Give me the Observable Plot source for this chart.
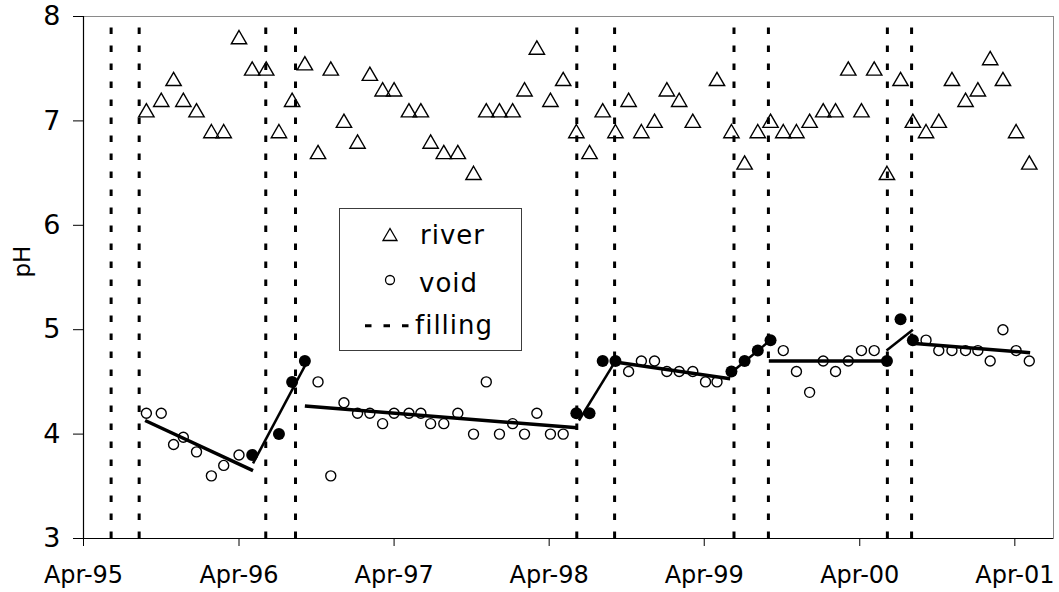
<!DOCTYPE html>
<html><head><meta charset="utf-8">
<script src="https://cdn.jsdelivr.net/npm/d3@7"></script>
<script src="https://cdn.jsdelivr.net/npm/@observablehq/plot@0.6"></script>
<style>
body{margin:0;background:#fff;}
#wrap{position:relative;width:1059px;height:592px;font-family:"DejaVu Sans",Verdana,sans-serif;}
#legend{position:absolute;left:339px;top:208px;}
</style></head><body><div id="wrap"></div>
<script>
// ---- data ----
const xDomain = ["1995-04-01", "2001-07-01"];
const tickDates = ["1995-04-01","1996-04-01","1997-04-01","1998-04-01","1999-04-01","2000-04-01","2001-04-01"];
const yTicks = [3,4,5,6,7,8];

const riverDates = ["1995-08-27","1995-10-01","1995-10-30","1995-11-22","1995-12-23","1996-01-27","1996-02-25","1996-04-01","1996-05-02","1996-06-04","1996-07-04","1996-08-04","1996-09-03","1996-10-04","1996-11-03","1996-12-04","1997-01-05","1997-02-03","1997-03-05","1997-04-01","1997-05-06","1997-06-03","1997-06-26","1997-07-27","1997-08-29","1997-10-05","1997-11-04","1997-12-05","1998-01-05","1998-02-02","1998-03-03","1998-04-04","1998-05-04","1998-06-04","1998-07-05","1998-08-05","1998-09-04","1998-10-05","1998-11-04","1998-12-05","1999-01-03","1999-02-01","1999-03-05","1999-05-01","1999-06-04","1999-07-05","1999-08-05","1999-09-04","1999-10-04","1999-11-04","1999-12-05","2000-01-06","2000-02-04","2000-03-05","2000-04-05","2000-05-05","2000-06-04","2000-07-06","2000-08-04","2000-09-04","2000-10-04","2000-11-04","2000-12-06","2001-01-04","2001-02-02","2001-03-04","2001-04-04","2001-05-05"];
const riverPH = [7.1,7.2,7.4,7.2,7.1,6.9,6.9,7.8,7.5,7.5,6.9,7.2,7.55,6.7,7.5,7.0,6.8,7.45,7.3,7.3,7.1,7.1,6.8,6.7,6.7,6.5,7.1,7.1,7.1,7.3,7.7,7.2,7.4,6.9,6.7,7.1,6.9,7.2,6.9,7.0,7.3,7.2,7.0,7.4,6.9,6.6,6.9,7.0,6.9,6.9,7.0,7.1,7.1,7.5,7.1,7.5,6.5,7.4,7.0,6.9,7.0,7.4,7.2,7.3,7.6,7.4,6.9,6.6];

const voidDates = ["1995-08-27","1995-10-01","1995-10-30","1995-11-22","1995-12-23","1996-01-27","1996-02-25","1996-04-01","1996-10-04","1996-11-03","1996-12-04","1997-01-05","1997-02-03","1997-03-05","1997-04-01","1997-05-06","1997-06-03","1997-06-26","1997-07-27","1997-08-29","1997-10-05","1997-11-04","1997-12-05","1998-01-05","1998-02-02","1998-03-03","1998-04-04","1998-05-04","1998-10-05","1998-11-04","1998-12-05","1999-01-03","1999-02-01","1999-03-05","1999-04-04","1999-05-01","1999-10-04","1999-11-04","1999-12-05","2000-01-06","2000-02-04","2000-03-05","2000-04-05","2000-05-05","2000-09-04","2000-10-04","2000-11-04","2000-12-06","2001-01-04","2001-02-02","2001-03-04","2001-04-04","2001-05-05"];
const voidPH = [4.2,4.2,3.9,3.97,3.83,3.6,3.7,3.8,4.5,3.6,4.3,4.2,4.2,4.1,4.2,4.2,4.2,4.1,4.1,4.2,4.0,4.5,4.0,4.1,4.0,4.2,4.0,4.0,4.6,4.7,4.7,4.6,4.6,4.6,4.5,4.5,4.8,4.6,4.4,4.7,4.6,4.7,4.8,4.8,4.9,4.8,4.8,4.8,4.8,4.7,5.0,4.8,4.7];

const fillingVoidDates = ["1996-05-02","1996-07-04","1996-08-04","1996-09-03","1998-06-04","1998-07-05","1998-08-05","1998-09-04","1999-06-04","1999-07-05","1999-08-05","1999-09-04","2000-06-04","2000-07-06","2000-08-04"];
const fillingVoidPH = [3.8,4.0,4.5,4.7,4.2,4.2,4.7,4.7,4.6,4.7,4.8,4.9,4.7,5.1,4.9];

const fillingDates = ["1995-06-05","1995-08-10","1996-06-03","1996-08-12","1998-06-05","1998-09-02","1999-06-10","1999-08-30","2000-06-05","2000-08-01"];

// trend segments (start date, start pH, end date, end pH, phase)
const trendStart = ["1995-08-24","1996-05-04","1996-09-03","1998-06-10","1998-09-03","1999-06-01","1999-08-31","2000-06-03","2000-08-02"];
const trendStartPH = [4.13,3.72,4.27,4.13,4.69,4.58,4.70,4.80,4.87];
const trendEnd = ["1996-05-04","1996-09-04","1998-06-06","1998-09-01","1999-06-01","1999-09-04","2000-06-05","2000-08-04","2001-05-07"];
const trendEndPH = [3.65,4.66,4.06,4.68,4.53,4.90,4.70,5.00,4.78];
const trendPhase = ["between","filling","between","filling","between","filling","between","filling","between"];

// ---- build ----
const parse = d3.utcParse("%Y-%m-%d");
const river = riverDates.map((d,i)=>({date:parse(d), pH:riverPH[i]}));
const voids = voidDates.map((d,i)=>({date:parse(d), pH:voidPH[i]}));
const fvoids = fillingVoidDates.map((d,i)=>({date:parse(d), pH:fillingVoidPH[i]}));
const fills = fillingDates.map(parse);
const trend = trendStart.map((d,i)=>({d1:parse(d), v1:trendStartPH[i], d2:parse(trendEnd[i]), v2:trendEndPH[i], phase:trendPhase[i]}));

const chart = Plot.plot({
  width:1059, height:592, marginTop:16, marginBottom:54, marginLeft:83, marginRight:6,
  style:{fontFamily:"DejaVu Sans, Verdana, sans-serif", color:"black", background:"white", overflow:"visible"},
  x:{type:"utc", domain:xDomain.map(parse)},
  y:{domain:[3,8]},
  marks:[
    Plot.frame({stroke:"#8a8a8a"}),
    Plot.ruleX(fills, {x:d=>d, y1:3, y2:8, stroke:"black", strokeWidth:3, strokeDasharray:"6.5,11.5"}),
    Plot.link(trend.filter(d=>d.phase==="between"), {x1:"d1", y1:"v1", x2:"d2", y2:"v2", stroke:"black", strokeWidth:3.5}),
    Plot.link(trend.filter(d=>d.phase==="filling"), {x1:"d1", y1:"v1", x2:"d2", y2:"v2", stroke:"black", strokeWidth:2.5}),
    Plot.dot(river, {x:"date", y:"pH", symbol:"triangle", r:5.7, dy:2, stroke:"black", strokeWidth:1.4, fill:"none"}),
    Plot.dot(voids, {x:"date", y:"pH", r:5, stroke:"black", strokeWidth:1.4, fill:"none"}),
    Plot.dot(fvoids, {x:"date", y:"pH", r:6, fill:"black", stroke:"none"}),
    Plot.ruleY([3], {stroke:"black", strokeWidth:1.2}),
    Plot.ruleX([parse(xDomain[0])], {stroke:"black", strokeWidth:1.2}),
    Plot.axisX({ticks:tickDates.map(parse), tickFormat:d3.utcFormat("%b-%y"), tickSize:8, tickPadding:19, fontSize:24, label:null}),
    Plot.axisY({ticks:yTicks, tickFormat:d3.format("d"), tickSize:10, tickPadding:13, fontSize:27, label:null}),
    Plot.text(["pH"], {frameAnchor:"left", dx:-61, rotate:-90, fontSize:23, fill:"black"})
  ]
});
document.getElementById("wrap").appendChild(chart);

// legend overlay
const lg = document.createElement("div");
lg.id = "legend";
lg.innerHTML = `<svg width="183" height="143" style="font-family:'DejaVu Sans',Verdana,sans-serif;font-size:26px;letter-spacing:1px">
<rect x="0.5" y="0.5" width="182" height="142" fill="white" stroke="#3c3c3c"/>
<path d="M44,32.5 L58,32.5 L51,20.5 Z" fill="none" stroke="black" stroke-width="1.3"/>
<text x="81" y="35.5">river</text>
<circle cx="51" cy="72" r="4.5" fill="none" stroke="black" stroke-width="1.3"/>
<text x="80" y="83.7">void</text>
<line x1="26" x2="72" y1="117.7" y2="117.7" stroke="black" stroke-width="3" stroke-dasharray="6.5,12"/>
<text x="76" y="126">filling</text>
</svg>`;
document.getElementById("wrap").appendChild(lg);
</script></body></html>
